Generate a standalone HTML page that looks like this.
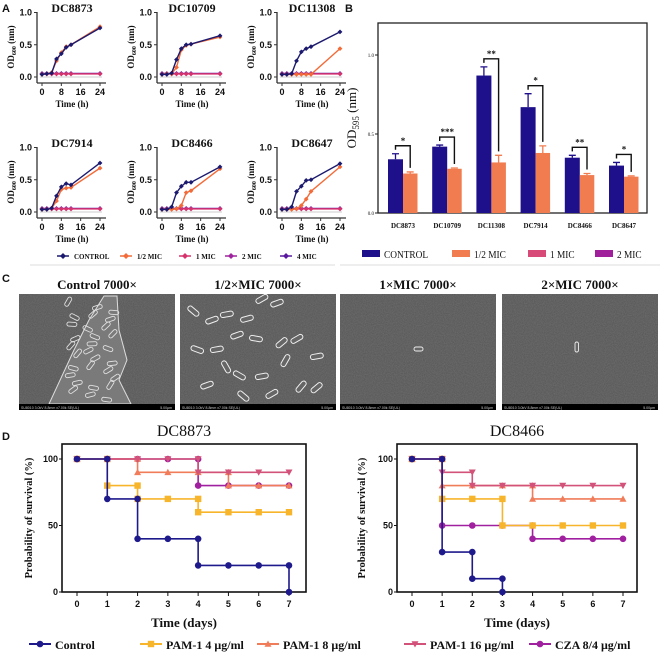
<!DOCTYPE html>
<html><head><meta charset="utf-8"><style>
html,body{margin:0;padding:0;background:#fff;}
svg{display:block;}
.ser{font-family:"Liberation Serif",serif;font-weight:bold;}
.san{font-family:"Liberation Sans",sans-serif;font-weight:bold;}
.nb{font-weight:normal;}
</style></head><body>
<svg id="fig" width="660" height="654" viewBox="0 0 660 654" xmlns="http://www.w3.org/2000/svg">
<defs>
<filter id="noise" x="0" y="0" width="100%" height="100%"><feTurbulence type="fractalNoise" baseFrequency="0.9" numOctaves="2" seed="3"/><feColorMatrix type="matrix" values="0 0 0 0 0.3 0 0 0 0 0.3 0 0 0 0 0.3 0 0 0 0.4 0"/><feComposite in2="SourceGraphic" operator="in"/></filter>
</defs>
</svg>
<script>
// ---------- Panel A data ----------
const growthTimes=[0,2,4,6,8,10,12,24];
const growthStrains=["DC8873","DC10709","DC11308","DC7914","DC8466","DC8647"];
const ctrlA=[[.04,.05,.06,.28,.36,.46,.50,.76],[.04,.04,.06,.27,.44,.50,.51,.64],[.04,.04,.05,.25,.39,.44,.47,.70],[.04,.04,.06,.25,.39,.44,.42,.76],[.04,.04,.08,.30,.40,.46,.46,.70],[.04,.04,.08,.32,.40,.49,.50,.75]];
const halfA=[[.04,.05,.07,.25,.38,.47,.50,.78],[.04,.05,.05,.15,.42,.49,.51,.62],[.04,.04,.04,.04,.04,.04,.04,.44],[.04,.04,.06,.17,.35,.37,.38,.68],[.04,.04,.04,.05,.10,.30,.33,.67],[.04,.04,.04,.05,.10,.20,.32,.70]];
const micA=[.05,.05,.05,.05,.05,.05,.05,.05];
const growthTicksX=[0,8,16,24];
const growthTicksY=[0,0.5,1.0];
// ---------- Panel B data ----------
const biofilmStrains=["DC8873","DC10709","DC11308","DC7914","DC8466","DC8647"];
const biofilmCtrl=[0.34,0.42,0.87,0.67,0.35,0.30];
const biofilmCtrlErr=[0.035,0.01,0.055,0.085,0.015,0.02];
const biofilmHalf=[0.25,0.28,0.32,0.38,0.24,0.23];
const biofilmHalfErr=[0.01,0.005,0.045,0.045,0.01,0.005];
const biofilmSig=["*","***","**","*","**","*"];
const biofilmTicks=[0,0.5,1.0];
// ---------- Panel D data ----------
const kmDays=[0,1,2,3,4,5,6,7];
const kmTicksY=[0,50,100];
const km8873_ctrl=[100,70,40,40,20,20,20,0];
const km8873_p4=[100,80,70,70,60,60,60,60];
const km8873_p8=[100,100,90,90,90,80,80,80];
const km8873_p16=[100,100,100,100,90,90,90,90];
const km8873_cza=[100,100,100,100,80,80,80,80];
const km8466_ctrl=[100,30,10,0];
const km8466_p4=[100,70,70,50,50,50,50,50];
const km8466_p8=[100,80,80,80,70,70,70,70];
const km8466_p16=[100,90,80,80,80,80,80,80];
const km8466_cza=[100,50,50,50,40,40,40,40];

const NS="http://www.w3.org/2000/svg";
const svg=document.getElementById('fig');
function mk(tag,attrs,parent){const e=document.createElementNS(NS,tag);for(const k in attrs)e.setAttribute(k,attrs[k]);(parent||svg).appendChild(e);return e;}
function txt(s,x,y,size,cls,anchor,parent,extra){const t=mk('text',Object.assign({x:x,y:y,'font-size':size,class:cls,'text-anchor':anchor||'middle',fill:'#111'},extra||{}),parent);t.textContent=s;return t;}

[["A",2,12],["B",345,12],["C",2,282],["D",2,440]].forEach(p=>{const t=txt(p[0],p[1],p[2],11,'san','start');

});

// ---------- Panel A ----------
const colA={ctrl:'#1c1a6e',half:'#f26b38',m1:'#d6336c',m2:'#a0249e',m4:'#5a1aa0'};
growthStrains.forEach((name,i)=>{
  const ox=(i%3)*120, oy=Math.floor(i/3)*135;
  const g=mk('g',{});
  
  
  const x=t=>ox+42+t/24*58, y=v=>oy+77-v*64.5;
  const tt=txt(name,ox+72,oy+12,12,'ser','middle',g);
  
  
  mk('line',{x1:ox+37,y1:oy+12,x2:ox+37,y2:oy+83,stroke:'#333','stroke-width':1.3},g);
  mk('line',{x1:ox+37,y1:oy+83,x2:ox+106,y2:oy+83,stroke:'#333','stroke-width':1.3},g);
  growthTicksY.forEach(v=>{mk('line',{x1:ox+34,x2:ox+37,y1:y(v),y2:y(v),stroke:'#333'},g);txt(v.toFixed(1),ox+32,y(v)+3,9,'san','end',g);});
  growthTicksX.forEach(t=>{mk('line',{x1:x(t),x2:x(t),y1:oy+83,y2:oy+86,stroke:'#333'},g);txt(String(t),x(t),oy+95,9,'san','middle',g);});
  txt('Time (h)',ox+72,oy+107,9,'ser','middle',g);
  const yl=txt('',ox+14,oy+47,9,'ser','middle',g,{transform:`rotate(-90 ${ox+14} ${oy+47})`});
  yl.innerHTML='OD<tspan font-size="6" dy="2">600</tspan><tspan dy="-2"> (nm)</tspan>';
  mk('line',{x1:ox+40,x2:ox+102,y1:y(0),y2:y(0),stroke:'#ccc'},g);
  const series=[[micA.map(v=>v+0.005),colA.m4],[micA,colA.m2],[micA.map(v=>v-0.003),colA.m1],[halfA[i],colA.half],[ctrlA[i],colA.ctrl]];
  series.forEach(([vals,c],k)=>{
    const pl=mk('polyline',{points:vals.map((v,j)=>x(growthTimes[j])+','+y(v)).join(' '),fill:'none',stroke:c,'stroke-width':1.4},g);
    
    
    vals.forEach((v,j)=>{const cx=x(growthTimes[j]),cy=y(v);
      const m=mk('path',{d:`M${cx} ${cy-2.4}L${cx+2.4} ${cy}L${cx} ${cy+2.4}L${cx-2.4} ${cy}Z`,fill:c},g);
      
      });
  });
});
const legA=mk('g',{});


[['CONTROL',63,colA.ctrl],['1/2 MIC',126,colA.half],['1 MIC',185,colA.m1],['2 MIC',231,colA.m2],['4 MIC',286,colA.m4]].forEach(([l,lx,c])=>{
  mk('line',{x1:lx-6,x2:lx+6,y1:256,y2:256,stroke:c,'stroke-width':1.5},legA);
  mk('path',{d:`M${lx} ${253}L${lx+3} 256L${lx} 259L${lx-3} 256Z`,fill:c},legA);
  txt(l,lx+11,259,7,'ser','start',legA);
});
mk('line',{x1:30,x2:335,y1:265,y2:265,stroke:'#ddd'},legA);

// ---------- Panel B ----------
const gB=mk('g',{});


const bY=v=>213-v*158, bX=i=>403+i*44.2;
mk('rect',{x:378,y:23,width:269,height:190,fill:'none',stroke:'#222','stroke-width':1.3},gB);
biofilmTicks.forEach(v=>{mk('line',{x1:375,x2:378,y1:bY(v),y2:bY(v),stroke:'#222'},gB);txt(v.toFixed(1),374,bY(v)+2,5,'ser nb','end',gB);});
const bt=txt('',356,118,13,'ser nb','middle',gB,{transform:'rotate(-90 356 118)'});
bt.innerHTML='OD<tspan font-size="9" dy="3">595</tspan><tspan dy="-3"> (nm)</tspan>';
const colB={ctrl:'#1e0f8a',half:'#f07c50',m1:'#d84a78',m2:'#a0209c'};
biofilmStrains.forEach((s,i)=>{
  const cx=bX(i);
  const b1=mk('rect',{x:cx-15,y:bY(biofilmCtrl[i]),width:15,height:biofilmCtrl[i]*158,fill:colB.ctrl},gB);
  
  
  const b2=mk('rect',{x:cx,y:bY(biofilmHalf[i]),width:14.5,height:biofilmHalf[i]*158,fill:colB.half},gB);
  
  
  const e1=bY(biofilmCtrl[i]+biofilmCtrlErr[i]), e2=bY(biofilmHalf[i]+biofilmHalfErr[i]);
  mk('path',{d:`M${cx-7.5} ${bY(biofilmCtrl[i])}V${e1}M${cx-11} ${e1}H${cx-4}`,stroke:colB.ctrl,'stroke-width':1.3,fill:'none'},gB);
  mk('path',{d:`M${cx+7.2} ${bY(biofilmHalf[i])}V${e2}M${cx+3.7} ${e2}H${cx+10.7}`,stroke:colB.half,'stroke-width':1.3,fill:'none'},gB);
  const top=Math.min(e1,e2)-8;
  mk('path',{d:`M${cx-7.5} ${e1-4}V${top}H${cx+7.2}V${e2-4}`,stroke:'#111','stroke-width':1.4,fill:'none'},gB);
  txt(biofilmSig[i],cx,top-2,9,'ser','middle',gB);
  txt(s,cx,228,7,'ser','middle',gB);
});
const legB=mk('g',{});


[['CONTROL',362,colB.ctrl],['1/2 MIC',452,colB.half],['1 MIC',528,colB.m1],['2 MIC',595,colB.m2]].forEach(([l,lx,c])=>{
  mk('rect',{x:lx,y:250,width:18,height:7,fill:c},legB);
  txt(l,lx+22,258,11,'ser nb','start',legB,{transform:`translate(${lx+22} 0) scale(0.85 1) translate(${-(lx+22)} 0)`});
});
mk('line',{x1:340,x2:660,y1:265,y2:265,stroke:'#ddd'},legB);

// ---------- Panel C (SEM) ----------
const semTitles=['Control  7000×','1/2×MIC  7000×','1×MIC 7000×','2×MIC 7000×'];
const semX=[19,180,340,502];
semTitles.forEach((t,i)=>{
  const x0=semX[i];
  const g=mk('g',{});
  
  
  txt(t,x0+78,289,13,'ser','middle',g);
  mk('rect',{x:x0,y:294,width:156,height:110,fill:'#555'},g);
  mk('rect',{x:x0,y:294,width:156,height:110,fill:'#777',filter:'url(#noise)'},g);
  if(i===0){
    mk('path',{d:`M${x0+30} 404L${x0+55} 350L${x0+70} 320L${x0+85} 296L${x0+98} 296L${x0+100} 330L${x0+108} 360L${x0+100} 380L${x0+112} 404Z`,fill:'#7a7a7a',stroke:'#ddd','stroke-width':1},g);
    for(let k=0;k<30;k++){const rx=x0+45+(k*37%55),ry=305+(k*23%95);mk('rect',{x:rx,y:ry,width:10,height:4,rx:2,fill:'none',stroke:'#e0e0e0','stroke-width':0.9,transform:`rotate(${-60+k*17%90} ${rx} ${ry})`},g);}
  } else if(i===1){
    const rods=[[10,305,40],[25,320,-20],[40,313,-10],[60,318,-15],[75,300,-30],[90,303,-20],[12,345,20],[30,348,-10],[50,335,-20],[70,335,10],[95,345,-40],[110,340,-30],[45,360,60],[55,370,30],[75,375,-10],[20,385,-20],[100,365,-60],[115,390,-50],[85,395,-30],[130,390,-40],[130,355,-10],[60,390,40]];
    rods.forEach(r=>mk('rect',{x:x0+r[0],y:r[1],width:13,height:5,rx:2.5,fill:'#666',stroke:'#f0f0f0','stroke-width':1,transform:`rotate(${r[2]} ${x0+r[0]} ${r[1]})`},g));
  } else if(i===2){
    mk('rect',{x:x0+74,y:347,width:9,height:4,rx:2,fill:'#666',stroke:'#eee','stroke-width':0.9},g);
  } else {
    mk('rect',{x:x0+73,y:342,width:3.5,height:10,rx:1.7,fill:'#666',stroke:'#eee','stroke-width':0.9},g);
  }
  mk('rect',{x:x0,y:404,width:156,height:6,fill:'#000'},g);
  txt('SU8010 3.0kV 8.8mm x7.00k SE(UL)',x0+2,409,3.5,'san nb','start',g,{fill:'#ccc'});
  txt('5.00μm',x0+153,409,3.5,'san nb','end',g,{fill:'#ccc'});
});

// ---------- Panel D ----------
const colD={ctrl:'#1e1a8c',p4:'#f7b52c',p8:'#f07c5a',p16:'#d2527a',cza:'#a020a0'};
function marker(type,cx,cy,c,g){
  let m;
  if(type==='circle') m=mk('circle',{cx:cx,cy:cy,r:3.3,fill:c},g);
  else if(type==='square') m=mk('rect',{x:cx-3.2,y:cy-3.2,width:6.4,height:6.4,fill:c},g);
  else if(type==='up') m=mk('path',{d:`M${cx} ${cy-3.5}L${cx+3.5} ${cy+2.8}L${cx-3.5} ${cy+2.8}Z`,fill:c},g);
  else m=mk('path',{d:`M${cx} ${cy+3.5}L${cx+3.5} ${cy-2.8}L${cx-3.5} ${cy-2.8}Z`,fill:c},g);
  
  
}
function kmChart(title,fx0,fx1,d0,d7,ytx,series){
  const g=mk('g',{});
  
  
  const X=d=>d0+d*(d7-d0)/7, Y=v=>592-v*1.33;
  txt(title,(fx0+fx1)/2,436,16,'ser nb','middle',g);
  mk('rect',{x:fx0,y:444,width:fx1-fx0,height:148,fill:'none',stroke:'#111','stroke-width':1.6},g);
  kmTicksY.forEach(v=>{mk('line',{x1:fx0-3,x2:fx0,y1:Y(v),y2:Y(v),stroke:'#111'},g);txt(String(v),fx0-4,Y(v)+3,9,'san','end',g);});
  kmDays.forEach(d=>{mk('line',{x1:X(d),x2:X(d),y1:592,y2:596,stroke:'#111'},g);txt(String(d),X(d),607,9,'san','middle',g);});
  txt('Time (days)',(fx0+fx1)/2,627,13,'ser','middle',g);
  txt('Probability of survival (%)',ytx,518,10.5,'ser','middle',g,{transform:`rotate(-90 ${ytx} 518)`});
  series.forEach(([vals,c,type])=>{
    let d=`M${X(0)} ${Y(vals[0])}`;
    for(let k=1;k<vals.length;k++){d+=`H${X(k)}V${Y(vals[k])}`;}
    const p=mk('path',{d:d,fill:'none',stroke:c,'stroke-width':1.6},g);
    
    
    vals.forEach((v,k)=>{marker(type,X(k),Y(v),c,g);if(k>0&&vals[k-1]!==v)marker(type,X(k),Y(vals[k-1]),c,g);});
  });
}
kmChart('DC8873',62,306,77,289,32,[[km8873_cza,colD.cza,'circle'],[km8873_p4,colD.p4,'square'],[km8873_p8,colD.p8,'up'],[km8873_p16,colD.p16,'down'],[km8873_ctrl,colD.ctrl,'circle']]);
kmChart('DC8466',397,637,412,623,365,[[km8466_cza,colD.cza,'circle'],[km8466_p4,colD.p4,'square'],[km8466_p8,colD.p8,'up'],[km8466_p16,colD.p16,'down'],[km8466_ctrl,colD.ctrl,'circle']]);
const legD=mk('g',{});


[['Control',40,colD.ctrl,'circle'],['PAM-1 4 μg/ml',151,colD.p4,'square'],['PAM-1 8 μg/ml',268,colD.p8,'up'],['PAM-1 16 μg/ml',415,colD.p16,'down'],['CZA  8/4 μg/ml',540,colD.cza,'circle']].forEach(([l,lx,c,t])=>{
  mk('line',{x1:lx-11,x2:lx+11,y1:644,y2:644,stroke:c,'stroke-width':2},legD);
  marker(t,lx,644,c,legD);
  txt(l,lx+15,649,12,'ser','start',legD);
});
</script>
</body></html>
